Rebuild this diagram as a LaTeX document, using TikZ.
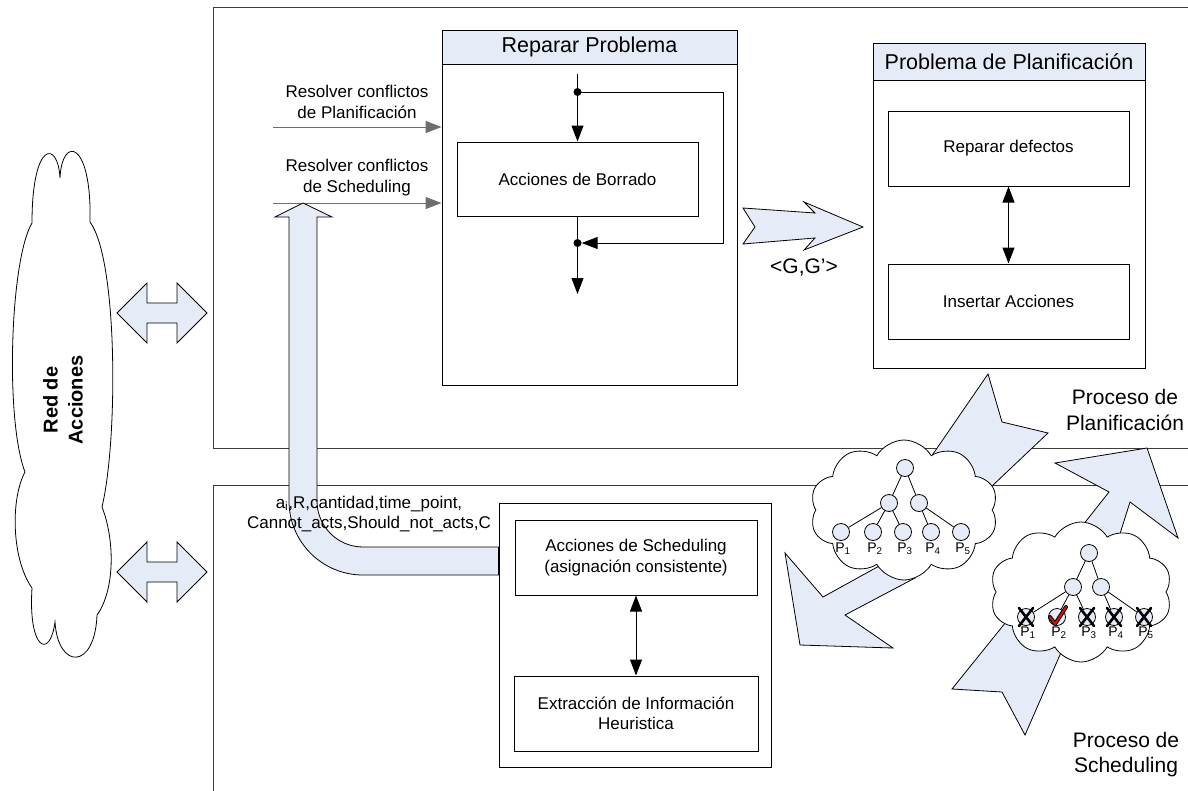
\documentclass[tikz,border=0pt]{standalone}
\usepackage{fontspec}
\setmainfont{Liberation Sans}
\usetikzlibrary{arrows.meta,shapes.symbols}

\definecolor{paleblue}{RGB}{230,236,247}
\definecolor{framegray}{RGB}{60,60,60}
\definecolor{linegray}{RGB}{110,110,110}
\definecolor{checkred}{RGB}{200,20,20}

\begin{document}
\begin{tikzpicture}[x=1pt,y=-1pt,
  txt/.style={font=\fontsize{17}{20.5}\selectfont, align=center, inner sep=0pt},
  ttl/.style={font=\fontsize{21}{25.5}\selectfont, align=center, inner sep=0pt},
  box/.style={draw=black, line width=1pt, fill=white, font=\fontsize{17}{20.5}\selectfont, align=center},
  hdr/.style={draw=black, line width=1pt, fill=paleblue, font=\fontsize{21.5}{24}\selectfont, anchor=north},
  frame/.style={draw=framegray, line width=1pt},
  blk/.style={draw=black, fill=paleblue, line width=0.8pt, line join=miter},
  arr/.style={line width=1pt, -{Triangle[length=16pt,width=12pt]}},
  darr/.style={line width=1pt, {Triangle[length=16pt,width=12pt]}-{Triangle[length=16pt,width=12pt]}},
  jdot/.style={circle, fill=black, inner sep=0pt, minimum size=8pt},
  leaf/.style={circle, draw=black, line width=0.8pt, fill=paleblue, minimum size=17pt, inner sep=0pt},
  plab/.style={font=\fontsize{14}{14}\selectfont, inner sep=0pt},
  xline/.style={line width=2.6pt, line cap=round},
  puff/.style={cloud, draw=black, line width=0.8pt, fill=white, cloud puffs=10, cloud puff arc=120, aspect=1.35},
]
\useasboundingbox (0,0) rectangle (1188,790);

% ---- process frames (open on the right) ----
\draw[frame] (1190,7) -- (213,7) -- (213,448) -- (1190,448);
\draw[frame] (1190,485) -- (213,485) -- (213,792);

% ---- "Red de Acciones" cloud ----
\draw[line width=0.8pt, fill=white] (60,178)
  .. controls (62,135) and (92,140) .. (90,222)
  .. controls (118,260) and (118,440) .. (102,507)
  .. controls (115,540) and (115,590) .. (97,615)
  .. controls (95,670) and (58,670) .. (55,622)
  .. controls (50,660) and (28,650) .. (32,588)
  .. controls (12,560) and (10,500) .. (25,472)
  .. controls (5,420) and (10,260) .. (32,223)
  .. controls (32,140) and (58,140) .. (60,178) -- cycle;
\node[font=\fontsize{20}{25}\selectfont\bfseries, align=center, rotate=90] (red) at (63,400) {Red de\\Acciones};

% ---- double block arrows between the cloud and the frames ----
\draw[blk] (117,313) -- (147,283) -- (147,303) -- (177,303) -- (177,283) -- (207,313)
  -- (177,343) -- (177,323) -- (147,323) -- (147,343) -- cycle;
\draw[blk] (117,572) -- (147,542) -- (147,562) -- (177,562) -- (177,542) -- (207,572)
  -- (177,602) -- (177,582) -- (147,582) -- (147,602) -- cycle;

% ---- Reparar Problema ----
\node[box, minimum width=295pt, minimum height=355pt] (reparar) at (589.5,207.5) {};
\node[hdr, minimum width=295pt, minimum height=34pt] (repararT) at (reparar.north) {Reparar Problema};
\node[box, minimum width=241pt, minimum height=74pt] (borrado) at (577.5,179) {Acciones de Borrado};

\node[txt] (rplan) at (357,102) {Resolver conflictos\\de Planificación};
\node[txt] (rsched) at (357,177.5) {Resolver conflictos\\de Scheduling};
\coordinate (inP) at (273,127);
\coordinate (inS) at (273,203);
\draw[arr, linegray] (inP) -- (inP -| reparar.west);
\draw[arr, linegray] (inS) -- (inS -| reparar.west);

\coordinate (loopIn) at (577.5,74);
\node[jdot] (d1) at (577.5,92) {};
\node[jdot] (d2) at (577.5,243) {};
\coordinate (loopOut) at (577.5,294);
\draw[line width=1pt] (loopIn) -- (d1.center);
\draw[arr] (d1.center) -- (borrado.north);
\draw[arr] (d1.center) -- (723,92) -- (723,243) -- (d2.east);
\draw[line width=1pt] (borrado.south) -- (d2.center);
\draw[arr] (d2.center) -- (loopOut);

% ---- Problema de Planificacion ----
\node[box, minimum width=272pt, minimum height=325pt] (problema) at (1009,205.5) {};
\node[hdr, minimum width=272pt, minimum height=37pt] (problemaT) at (problema.north) {Problema de Planificación};
\node[box, minimum width=241pt, minimum height=75pt] (defectos) at (1008.5,148.5) {Reparar defectos};
\node[box, minimum width=241pt, minimum height=75pt] (insertar) at (1008.5,301.5) {Insertar Acciones};
\draw[darr] (defectos.south) -- (insertar.north);

% ---- <G,G'> block arrow ----
\draw[blk] (743,208) -- (815,213) -- (804,202) -- (863,227) -- (804,250) -- (815,238)
  -- (743,244) -- (755,227) -- cycle;
\node[ttl] (gg) at (804,268) {<G,G’>};

% ---- Scheduling process ----
\node[box, minimum width=272pt, minimum height=264pt] (schedout) at (635,635) {};
\node[box, minimum width=242pt, minimum height=75pt] (asign) at (636,557.5) {Acciones de Scheduling\\(asignación consistente)};
\node[box, minimum width=244pt, minimum height=75pt] (heur) at (636,713.5) {Extracción de Información\\Heuristica};
\draw[darr] (asign.south) -- (heur.north);

% bent block arrow from the scheduling box up to the conflict inputs
\draw[blk] (303,203) -- (332,217) -- (317,217) -- (317,501)
  .. controls (317,526.4) and (337.6,547) .. (363,547) -- (schedout.west |- 0,547)
  -- (schedout.west |- 0,575) -- (363,575)
  .. controls (322.1,575) and (289,541.9) .. (289,501) -- (289,217) -- (275,217) -- cycle;
\node[txt] (params) at (369,514) {a\textsubscript{i},R,cantidad,time\_point,\\Cannot\_acts,Should\_not\_acts,C};

% ---- block arrows between the search clouds ----
\draw[blk] (988,374) -- (1002,422) -- (1048,433) -- (972,505) -- (922,470) -- cycle;
\draw[blk] (785,553) -- (823,597) -- (890,560) -- (915,578) -- (845,615) -- (893,648) -- (800,645) -- cycle;
\draw[blk] (1147,448) -- (1178,538) -- (1130,502) -- (1118,540) -- (1075,535) -- (1109,492) -- (1055,463) -- cycle;
\draw[blk] (952,689) -- (1002,692) -- (1025,735) -- (1066,641) -- (1010,617) -- cycle;

% ---- planning search tree ----
\node[puff, minimum width=188pt, minimum height=140pt] (cloudA) at (904,510) {};
\node[leaf] (a0) at (905,468) {};
\node[leaf] (a1) at (889,503) {};
\node[leaf] (a2) at (919,503) {};
\node[leaf] (ap1) at (841,532) {};
\node[leaf] (ap2) at (873,532) {};
\node[leaf] (ap3) at (903,532) {};
\node[leaf] (ap4) at (931,532) {};
\node[leaf] (ap5) at (961,532) {};
\draw[line width=0.8pt] (a0) -- (a1) (a0) -- (a2)
  (a1) -- (ap1) (a1) -- (ap2) (a1) -- (ap3) (a2) -- (ap4) (a2) -- (ap5);
\node[plab] at (843,549) {P\textsubscript{1}};
\node[plab] at (875,549) {P\textsubscript{2}};
\node[plab] at (905,549) {P\textsubscript{3}};
\node[plab] at (933,549) {P\textsubscript{4}};
\node[plab] at (963,549) {P\textsubscript{5}};

% ---- scheduling search tree ----
\node[puff, minimum width=182pt, minimum height=140pt] (cloudB) at (1081,592) {};
\node[leaf] (b0) at (1089,553) {};
\node[leaf] (b1) at (1073,587) {};
\node[leaf] (b2) at (1101,587) {};
\node[leaf] (bp1) at (1026,617) {};
\node[leaf] (bp2) at (1057,617) {};
\node[leaf] (bp3) at (1087,617) {};
\node[leaf] (bp4) at (1114,617) {};
\node[leaf] (bp5) at (1144,617) {};
\draw[line width=0.8pt] (b0) -- (b1) (b0) -- (b2)
  (b1) -- (bp1) (b1) -- (bp2) (b1) -- (bp3) (b2) -- (bp4) (b2) -- (bp5);
\foreach \n in {bp1,bp3,bp4,bp5}{
  \draw[xline] ([shift={(-7,-9)}]\n.center) -- ([shift={(7,9)}]\n.center);
  \draw[xline] ([shift={(7,-9)}]\n.center) -- ([shift={(-7,9)}]\n.center);
}
\draw[line width=4pt, line cap=round, line join=round] ([shift={(-7,0)}]bp2.center) -- ([shift={(-2,7)}]bp2.center) -- ([shift={(9,-10)}]bp2.center);
\draw[checkred, line width=2pt, line cap=round, line join=round] ([shift={(-7,0)}]bp2.center) -- ([shift={(-2,7)}]bp2.center) -- ([shift={(9,-10)}]bp2.center);
\node[plab] at (1028,633) {P\textsubscript{1}};
\node[plab] at (1059,633) {P\textsubscript{2}};
\node[plab] at (1089,633) {P\textsubscript{3}};
\node[plab] at (1116,633) {P\textsubscript{4}};
\node[plab] at (1146,633) {P\textsubscript{5}};

% ---- process labels ----
\node[ttl] (pplan) at (1125,410) {Proceso de\\Planificación};
\node[ttl] (psched) at (1126,754.5) {Proceso de\\Scheduling};
\end{tikzpicture}
\end{document}
